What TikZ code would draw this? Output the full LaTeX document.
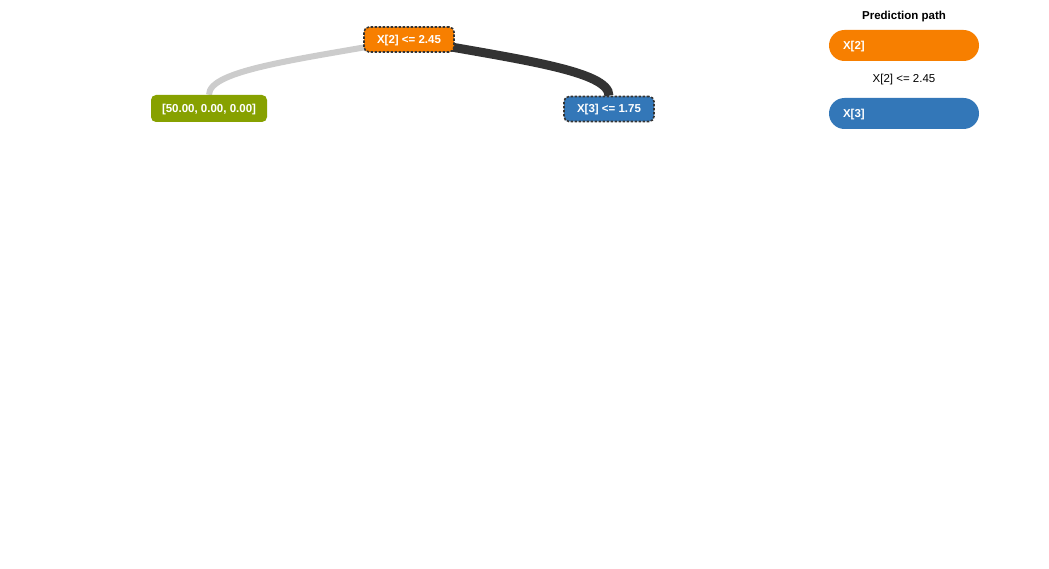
\documentclass[tikz,border=0pt]{standalone}
\usepackage{fontspec}
\setmainfont{Liberation Sans}
\usepackage{xcolor}
\usetikzlibrary{positioning, backgrounds}
\definecolor{splitorange}{HTML}{F77F00}
\definecolor{splitblue}{HTML}{3377B8}
\definecolor{leafgreen}{HTML}{87A100}
\definecolor{edgedark}{HTML}{333333}
\definecolor{edgelight}{HTML}{CCCCCC}

\begin{document}
\begin{tikzpicture}[x=1pt, y=-1pt,
    every node/.style={font=\fontsize{11.5}{13}\selectfont, inner sep=0pt},
    split/.style={rounded corners=5pt, minimum width=90pt, minimum height=25pt,
        text height=8.5pt, text depth=0.5pt,
        text=white, font=\fontsize{11.5}{13}\selectfont\bfseries,
        draw=edgedark, line width=1.6pt, dash pattern=on 2.5pt off 1.5pt},
    leafbox/.style={rounded corners=5pt, minimum width=116pt, minimum height=27pt,
        text height=8.5pt, text depth=0.5pt,
        fill=leafgreen, text=white, font=\fontsize{11.5}{13}\selectfont\bfseries},
    pill/.style={rounded corners=15.5pt, minimum height=31pt, text width=122pt,
        text height=8.5pt, text depth=0.5pt,
        inner xsep=14pt, align=left, text=white,
        font=\fontsize{11.5}{13}\selectfont\bfseries},
    lowedge/.style={draw=edgelight, line width=6pt},
    pathedge/.style={draw=edgedark, line width=9pt}]
    \useasboundingbox (0,0) rectangle (1049,569);
    % tree
    \node[split, fill=splitorange] (root) at (409,39.5) {X[2] <= 2.45};
    \node[leafbox] (leaf) at (209,108.5) {[50.00, 0.00, 0.00]};
    \node[split, fill=splitblue] (right) at (609,109) {X[3] <= 1.75};
    \begin{scope}[on background layer]
        \fill[white] (0,0) rectangle (1049,569);
        \draw[lowedge] (root.center) .. controls +(-110,20) and +(0,-25) .. (leaf.north);
        \draw[pathedge] (root.center) .. controls +(110,20) and +(0,-25) .. (right.north);
    \end{scope}
    % legend
    \node[font=\fontsize{11.5}{13}\selectfont\bfseries] (title) at (904,17) {Prediction path};
    \node[pill, fill=splitorange] (path1) at (904,45.5) {X[2]};
    \node (cond1) at (904,80) {X[2] <= 2.45};
    \node[pill, fill=splitblue] (path2) at (904,113.5) {X[3]};
\end{tikzpicture}
\end{document}
